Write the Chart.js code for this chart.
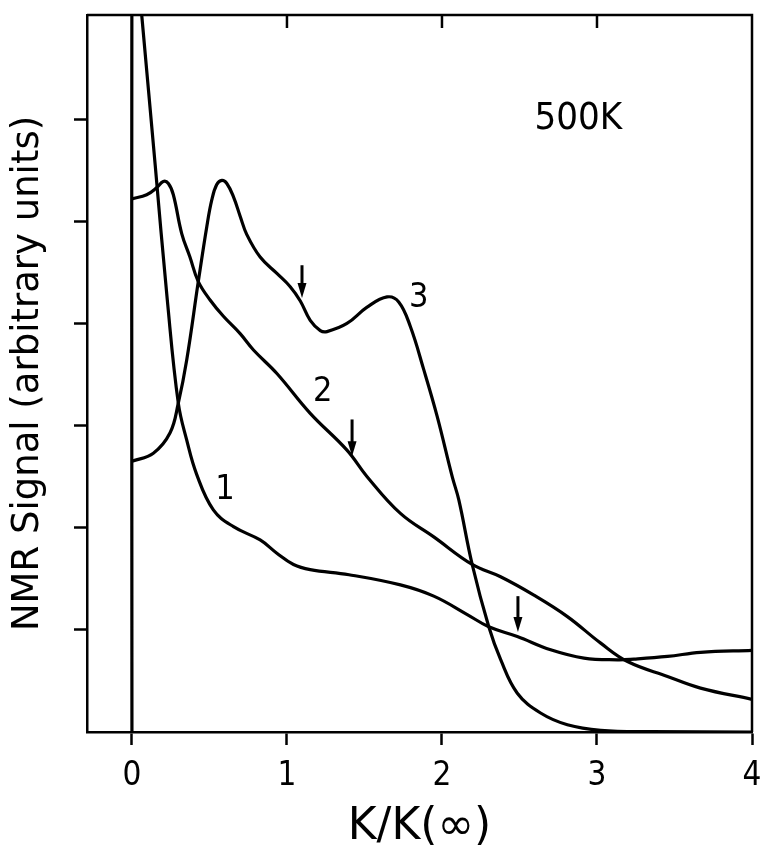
<!DOCTYPE html>
<html>
<head>
<meta charset="utf-8">
<script src="https://cdn.jsdelivr.net/npm/chart.js@4/dist/chart.umd.min.js"></script>
<style>
  html, body { margin: 0; padding: 0; background: #fff; }
  #wrap { width: 760px; height: 846px; }
</style>
</head>
<body>
<div id="wrap"><canvas id="c" width="760" height="846"></canvas></div>
<script>
// ---- data ----
const xTicks = [0, 1, 2, 3, 4];
const yTicks = [1, 2, 3, 4, 5, 6];

const curve1X = [0, 0, 0.01, 0.063, 0.15, 0.228, 0.299, 0.353, 0.418, 0.525, 0.655, 0.827, 0.935, 1.042, 1.150, 1.40, 1.732, 1.947, 2.163, 2.302, 2.486, 2.701, 2.916, 3.132, 3.239, 3.455, 3.668, 4.0];
const curve1Y = [0, 8.3, 7.9, 7.02, 5.55, 4.23, 3.22, 2.86, 2.52, 2.175, 2.01, 1.88, 1.75, 1.64, 1.59, 1.54, 1.44, 1.33, 1.15, 1.03, 0.935, 0.805, 0.724, 0.707, 0.714, 0.74, 0.78, 0.80];

const curve2X = [0, 0.095, 0.160, 0.202, 0.235, 0.267, 0.321, 0.374, 0.428, 0.504, 0.590, 0.698, 0.784, 0.935, 1.150, 1.387, 1.517, 1.732, 1.947, 2.195, 2.378, 2.593, 2.809, 3.024, 3.197, 3.455, 3.668, 4.0];
const curve2Y = [5.22, 5.26, 5.33, 5.39, 5.37, 5.26, 4.88, 4.65, 4.41, 4.23, 4.07, 3.90, 3.74, 3.51, 3.12, 2.76, 2.50, 2.14, 1.91, 1.64, 1.52, 1.34, 1.13, 0.87, 0.69, 0.544, 0.43, 0.32];

const curve3X = [0, 0.138, 0.246, 0.299, 0.353, 0.428, 0.483, 0.515, 0.547, 0.580, 0.612, 0.655, 0.698, 0.741, 0.827, 0.935, 1.021, 1.086, 1.150, 1.215, 1.258, 1.387, 1.517, 1.646, 1.721, 1.796, 1.882, 1.969, 2.066, 2.109, 2.195, 2.302, 2.378, 2.486, 2.636, 2.809, 3.024, 3.35, 4.0];
const curve3Y = [2.65, 2.73, 2.93, 3.22, 3.64, 4.41, 4.95, 5.21, 5.36, 5.40, 5.37, 5.24, 5.05, 4.87, 4.65, 4.49, 4.36, 4.22, 4.03, 3.93, 3.92, 4.00, 4.16, 4.26, 4.21, 3.97, 3.55, 3.09, 2.50, 2.27, 1.64, 1.03, 0.71, 0.38, 0.186, 0.071, 0.016, 0.003, 0];

// curve labels
const labelText = ['1', '2', '3'];
const labelX = [0.60, 1.23, 1.85];
const labelY = [2.37, 3.33, 4.25];

// temperature annotation
const tempText = '500K';
const tempX = 2.88;
const tempY = 6.0;

// downward arrows (x, tail y, tip y)
const arrowX = [1.097, 1.42, 2.49];
const arrowTail = [4.57, 3.06, 1.33];
const arrowTip = [4.25, 2.70, 0.98];

const xTitle = 'K/K(\u221E)';
const yTitle = 'NMR Signal (arbitrary units)';

// ---- chart ----
const FONT_C = "'DejaVu Sans Condensed', 'DejaVu Sans', sans-serif";
const FONT_N = "'DejaVu Sans', sans-serif";
const toPts = (xs, ys) => xs.map((x, i) => ({ x: x, y: ys[i] }));

const lineStyle = {
  borderColor: '#000',
  borderWidth: 3.2,
  pointRadius: 0,
  fill: false,
  tension: 0.4
};

const extras = {
  id: 'extras',
  afterDatasetsDraw(chart) {
    const { ctx, chartArea: a, scales: { x, y } } = chart;
    ctx.save();
    ctx.strokeStyle = '#000';
    ctx.lineWidth = 2.5;
    // top and right frame
    ctx.beginPath();
    ctx.moveTo(a.left, a.top);
    ctx.lineTo(a.right, a.top);
    ctx.lineTo(a.right, a.bottom);
    ctx.stroke();
    // inward ticks on top
    xTicks.forEach(v => {
      if (v <= 0 || v >= 4) return;
      const px = x.getPixelForValue(v);
      ctx.beginPath();
      ctx.moveTo(px, a.top);
      ctx.lineTo(px, a.top + 13);
      ctx.stroke();
    });
    // arrows
    ctx.fillStyle = '#000';
    arrowX.forEach((v, i) => {
      const px = x.getPixelForValue(v);
      const y0 = y.getPixelForValue(arrowTail[i]);
      const y1 = y.getPixelForValue(arrowTip[i]);
      ctx.lineWidth = 3;
      ctx.beginPath();
      ctx.moveTo(px, y0);
      ctx.lineTo(px, y1 - 8);
      ctx.stroke();
      ctx.beginPath();
      ctx.moveTo(px - 4.5, y1 - 15);
      ctx.lineTo(px + 4.5, y1 - 15);
      ctx.lineTo(px, y1);
      ctx.closePath();
      ctx.fill();
    });
    // curve labels and temperature
    ctx.textAlign = 'center';
    ctx.textBaseline = 'middle';
    ctx.font = '34px ' + FONT_C;
    labelText.forEach((t, i) => {
      ctx.fillText(t, x.getPixelForValue(labelX[i]), y.getPixelForValue(labelY[i]));
    });
    ctx.font = '38px ' + FONT_C;
    ctx.fillText(tempText, x.getPixelForValue(tempX), y.getPixelForValue(tempY));
    ctx.restore();
  }
};

new Chart(document.getElementById('c'), {
  type: 'line',
  data: {
    datasets: [
      Object.assign({ label: '1', data: toPts(curve1X, curve1Y) }, lineStyle),
      Object.assign({ label: '2', data: toPts(curve2X, curve2Y) }, lineStyle),
      Object.assign({ label: '3', data: toPts(curve3X, curve3Y) }, lineStyle)
    ]
  },
  options: {
    responsive: false,
    animation: false,
    layout: { padding: { left: 0, top: 15, right: 8, bottom: 0 } },
    plugins: { legend: { display: false }, tooltip: { enabled: false } },
    scales: {
      x: {
        type: 'linear',
        min: -0.29,
        max: 4,
        afterBuildTicks: s => { s.ticks = xTicks.map(v => ({ value: v })); },
        afterFit: s => { s.height = 114; s.paddingLeft = 0; s.paddingRight = 0; },
        grid: { drawOnChartArea: false, drawTicks: true, tickLength: 13, tickWidth: 2.5, tickColor: '#000' },
        border: { display: true, color: '#000', width: 2.5 },
        ticks: { color: '#000', font: { family: FONT_C, size: 33 }, padding: 12, maxRotation: 0 },
        title: { display: true, text: xTitle, color: '#000', font: { family: FONT_N, size: 44, lineHeight: 0.85 }, padding: { top: 0, bottom: 0 } }
      },
      y: {
        type: 'linear',
        min: 0,
        max: 7.02,
        afterBuildTicks: s => { s.ticks = yTicks.map(v => ({ value: v })); },
        afterFit: s => { s.width = 87; },
        grid: { drawOnChartArea: false, drawTicks: true, tickLength: 13, tickWidth: 2.5, tickColor: '#000' },
        border: { display: true, color: '#000', width: 2.5 },
        ticks: { display: false },
        title: { display: true, text: yTitle, color: '#000', font: { family: FONT_N, size: 37, lineHeight: 1 }, padding: { top: 10, bottom: 0 } }
      }
    }
  },
  plugins: [extras]
});
</script>
</body>
</html>
